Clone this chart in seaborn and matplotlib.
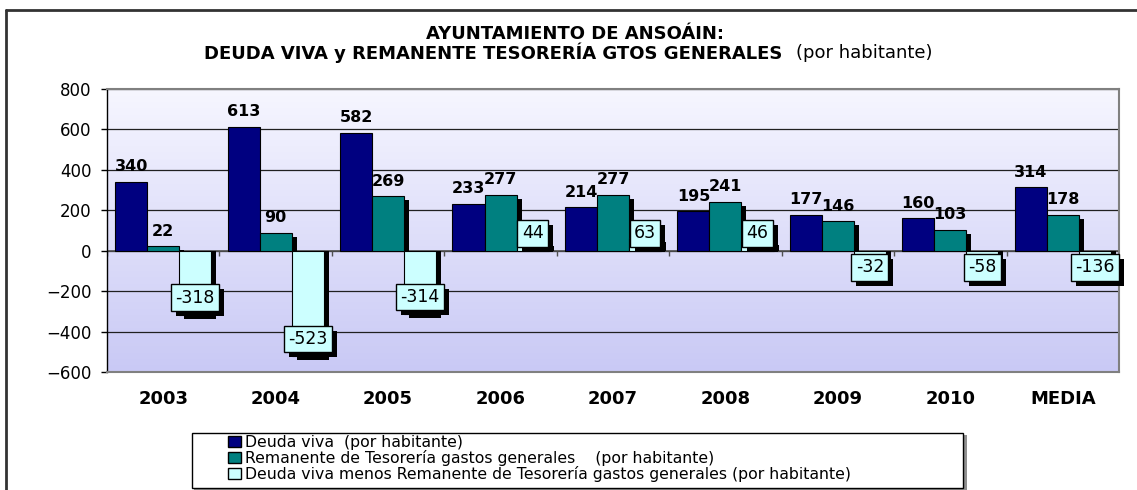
import numpy as np
import pandas as pd
import matplotlib
matplotlib.use("Agg")
import matplotlib.pyplot as plt
import matplotlib.transforms as mtransforms
import matplotlib.patheffects as pe
from matplotlib.patches import Rectangle, Patch
from matplotlib.lines import Line2D
import seaborn as sns

# data
years = ['2003', '2004', '2005', '2006', '2007', '2008', '2009', '2010', 'MEDIA']
deuda = [340, 613, 582, 233, 214, 195, 177, 160, 314]
remanente = [22, 90, 269, 277, 277, 241, 146, 103, 178]
diferencia = [-318, -523, -314, 44, 63, 46, -32, -58, -136]
series = ['Deuda viva  (por habitante)',
          'Remanente de Tesorería gastos generales    (por habitante)',
          'Deuda viva menos Remanente de Tesorería gastos generales (por habitante)']
colors = ['#000080', '#008080', '#CCFFFF']

df = pd.DataFrame({
    'year': years * 3,
    'valor': deuda + remanente + diferencia,
    'serie': [series[0]] * 9 + [series[1]] * 9 + [series[2]] * 9,
})

sns.set_style('white')
plt.rcParams['font.family'] = ['DejaVu Sans']
plt.rcParams['text.color'] = 'black'
plt.rcParams['xtick.color'] = 'black'
plt.rcParams['ytick.color'] = 'black'

fig = plt.figure(figsize=(11.37, 4.9), dpi=100)
W, H = 1137, 490
ax = fig.add_axes([107 / W, 1 - 372 / H, (1119 - 107) / W, (372 - 89) / H])

# gradient background
grad = np.linspace(0, 1, 256).reshape(-1, 1)
cmap = matplotlib.colors.LinearSegmentedColormap.from_list('bg', ['#F6F6FF', '#C9C9F5'])
ax.imshow(grad, extent=[-0.5, 8.5, -600, 800], aspect='auto', cmap=cmap, zorder=0, origin='upper')

sns.barplot(data=df, x='year', y='valor', hue='serie', palette=colors, width=0.855,
            saturation=1, edgecolor='black', linewidth=0.8, legend=False, ax=ax, errorbar=None)

ax.set_xlim(-0.5, 8.5)
ax.set_ylim(-600, 800)
ax.set_yticks(range(-600, 801, 200))
for yv in range(-400, 801, 200):
    ax.axhline(yv, color='#202020', lw=0.9, zorder=0.5)
ax.axhline(0, color='#505050', lw=1.2, zorder=0.6)
ax.vlines(np.arange(-0.5, 9), 0, -25, color='#505050', lw=1, zorder=0.6)

# shadows (green and light cyan series only, like the original)
px_per_unit = (372 - 89) / 1400
dy = 4 / px_per_unit
shadow_tr = ax.transData + mtransforms.ScaledTranslation(5 / 100, 0, fig.dpi_scale_trans)
bars = list(ax.patches)
for i, p in enumerate(bars):
    p.set_zorder(3)
    if i >= 9:
        ax.add_patch(Rectangle((p.get_x(), 0), p.get_width(), p.get_height() - dy,
                               facecolor='black', edgecolor='none', transform=shadow_tr, zorder=1))

# value labels
for i, p in enumerate(bars):
    k = i // 9
    j = i % 9
    x = p.get_x() + p.get_width() / 2
    if k < 2:
        v = [deuda, remanente][k][j]
        ax.annotate(str(v), (x, v), xytext=(0, 5.5), textcoords='offset points',
                    ha='center', va='bottom', fontsize=11.5, fontweight='bold', zorder=6)
    else:
        v = diferencia[j]
        long_bar = abs(v) * px_per_unit > 40
        if v < 0:
            if long_bar:
                anchor, oy, va = (x, v), 6, 'bottom'
            else:
                anchor, oy, va = (x, 0), -5.5, 'top'
        else:
            if long_bar:
                anchor, oy, va = (x, v), -6, 'top'
            else:
                anchor, oy, va = (x, 0), 6, 'bottom'
        t = ax.annotate(str(v), anchor, xytext=(0, oy), textcoords='offset points',
                        ha='center', va=va, fontsize=12.5, color='black', zorder=5,
                        bbox=dict(boxstyle='square,pad=0.25', fc='#CCFFFF', ec='black', lw=1))
        t.get_bbox_patch().set_path_effects([
            pe.SimplePatchShadow(offset=(3.6, -3.6), shadow_rgbFace='black', alpha=1),
            pe.Normal()])

ax.set_xlabel('')
ax.set_ylabel('')
ax.set_xticks(range(9))
ax.set_xticklabels(years, fontsize=13, fontweight='bold')
ax.tick_params(axis='x', length=0, pad=13)
ax.tick_params(axis='y', length=4, width=1, pad=7, labelsize=12, direction='out', left=True)
for s in ['top', 'right', 'bottom']:
    ax.spines[s].set_color('#808080')
    ax.spines[s].set_linewidth(1.5)
ax.spines['left'].set_color('black')
ax.spines['left'].set_linewidth(1)

# title
fig.text(575 / W, 1 - 34 / H, 'AYUNTAMIENTO DE ANSOÁIN:', ha='center', va='center',
         fontsize=13, fontweight='bold')
fig.text(782 / W, 1 - 53 / H, 'DEUDA VIVA y REMANENTE TESORERÍA GTOS GENERALES',
         ha='right', va='center', fontsize=13, fontweight='bold')
fig.text(796 / W, 1 - 53 / H, '(por habitante)', ha='left', va='center', fontsize=13)

# legend: frame drawn as figure box, entries indented inside it
fig.add_artist(Rectangle((194 / W, 1 - 490 / H), (965 - 192) / W, (490 - 435) / H,
                         transform=fig.transFigure, facecolor='#909090', edgecolor='none', zorder=1))
fig.add_artist(Rectangle((192 / W, 1 - 488 / H), (963 - 192) / W, (488 - 433) / H,
                         transform=fig.transFigure, facecolor='white', edgecolor='black', lw=1, zorder=2))
handles = [Patch(facecolor=c, edgecolor='black', lw=1) for c in colors]
leg = fig.legend(handles, series, loc='upper left', bbox_to_anchor=(228 / W, 1 - 435 / H),
                 frameon=False, fontsize=11.3, handlelength=0.8, handleheight=0.7,
                 handletextpad=0.3, labelspacing=0.0, borderpad=0, borderaxespad=0)
leg.set_zorder(3)

# outer frame
fig.add_artist(Line2D([6 / W, 6 / W], [0, 1 - 10 / H], transform=fig.transFigure, color='#333333', lw=2))
fig.add_artist(Line2D([6 / W, 1], [1 - 10 / H, 1 - 10 / H], transform=fig.transFigure, color='#333333', lw=2))

fig.savefig('out.png', dpi=100)
